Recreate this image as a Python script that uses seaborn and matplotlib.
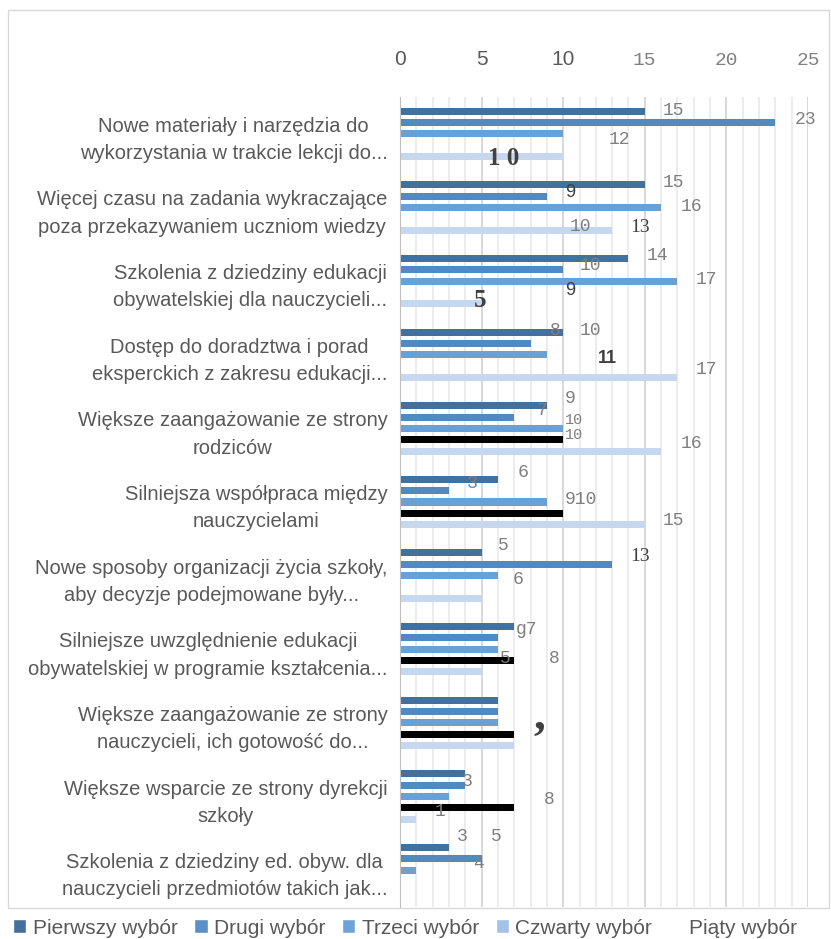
import numpy as np
import pandas as pd
import matplotlib
matplotlib.use("Agg")
import matplotlib.pyplot as plt
from matplotlib.patches import Patch, Rectangle
import seaborn as sns

# categories (top to bottom)
kategorie = [
    "Nowe materiały i narzędzia do\nwykorzystania w trakcie lekcji do...",
    "Więcej czasu na zadania wykraczające\npoza przekazywaniem uczniom wiedzy",
    "Szkolenia z dziedziny edukacji\nobywatelskiej dla nauczycieli...",
    "Dostęp do doradztwa i porad\neksperckich z zakresu edukacji...",
    "Większe zaangażowanie ze strony\nrodziców",
    "Silniejsza współpraca między\nnauczycielami",
    "Nowe sposoby organizacji życia szkoły,\naby decyzje podejmowane były...",
    "Silniejsze uwzględnienie edukacji\nobywatelskiej w programie kształcenia...",
    "Większe zaangażowanie ze strony\nnauczycieli, ich gotowość do...",
    "Większe wsparcie ze strony dyrekcji\nszkoły",
    "Szkolenia z dziedziny ed. obyw. dla\nnauczycieli przedmiotów takich jak...",
]

serie = ["Pierwszy wybór", "Drugi wybór", "Trzeci wybór", "Czwarty wybór", "Piąty wybór"]

# bar lengths as drawn (slot order: 1st, 2nd, 3rd, black, lightest)
pierwszy = [15, 15, 14, 10, 9, 6, 5, 7, 6, 4, 3]
drugi = [23, 9, 10, 8, 7, 3, 13, 6, 6, 4, 5]
trzeci = [10, 16, 17, 9, 10, 9, 6, 6, 6, 3, 1]
piaty = [0, 0, 0, 0, 10, 10, 0, 7, 7, 7, 0]
czwarty = [10, 13, 5, 17, 16, 15, 5, 5, 7, 1, 0]

# data labels as printed: text, category, slot, x, style
etykiety = [
    ("15", 0, -0.1, 16.1, "mono"), ("23", 0, 0.75, 24.2, "mono"),
    ("12", 0, 2.5, 12.8, "mono"), ("1 0", 0, 4.2, 5.4, "serifbig"),
    ("15", 1, -0.2, 16.1, "mono"), ("9", 1, 0.7, 10.1, "sans"),
    ("16", 1, 1.9, 17.2, "mono"), ("10", 1, 3.7, 10.4, "mono"),
    ("13", 1, 3.8, 14.1, "serif"),
    ("14", 2, -0.3, 15.1, "mono"), ("10", 2, 0.6, 11.0, "mono"),
    ("17", 2, 1.9, 18.1, "mono"), ("9", 2, 2.8, 10.1, "sans"),
    ("5", 2, 3.7, 4.5, "serifbig"),
    ("8", 3, -0.1, 9.2, "mono"), ("10", 3, -0.1, 11.0, "mono"),
    ("11", 3, 2.3, 12.1, "sansbold"), ("17", 3, 3.3, 18.1, "mono"),
    ("9", 4, -0.6, 10.1, "mono"), ("7", 4, 0.4, 8.4, "mono"),
    ("10", 4, 1.3, 10.1, "monosmall"), ("10", 4, 2.6, 10.1, "monosmall"),
    ("16", 4, 3.3, 17.2, "mono"),
    ("6", 5, -0.6, 7.2, "mono"), ("3", 5, 0.35, 4.1, "mono"),
    ("910", 5, 1.8, 10.1, "mono"), ("15", 5, 3.6, 16.1, "mono"),
    ("5", 6, -0.7, 6.0, "mono"), ("13", 6, 0.35, 14.1, "serif"),
    ("6", 6, 2.35, 6.9, "mono"),
    ("g7", 7, 0.3, 7.1, "mono"), ("5", 7, 2.8, 6.1, "mono"),
    ("8", 7, 2.8, 9.1, "mono"),
    (",", 8, 1.6, 8.2, "comma"),
    ("3", 9, 0.7, 3.8, "mono"), ("8", 9, 2.3, 8.8, "mono"),
    ("1", 9, 3.3, 2.1, "mono"),
    ("3", 10, -1.0, 3.5, "mono"), ("5", 10, -1.0, 5.6, "mono"),
    ("4", 10, 1.4, 4.5, "mono"),
]

style = {
    "mono": dict(family="Liberation Mono", size=13, color="#7F7F7F"),
    "monosmall": dict(family="Liberation Mono", size=11, color="#7F7F7F"),
    "sans": dict(family="Liberation Sans", size=13, color="#404040"),
    "sansbold": dict(family="Liberation Sans", size=13, color="#404040", weight="bold"),
    "serif": dict(family="Liberation Serif", size=14, color="#404040"),
    "serifbig": dict(family="Liberation Serif", size=18, color="#404040", weight="bold"),
    "comma": dict(family="Liberation Serif", size=34, color="#404040", weight="bold"),
}

sloty = ["Pierwszy wybór", "Drugi wybór", "Trzeci wybór", "Piąty wybór", "Czwarty wybór"]
kolory = {
    "Pierwszy wybór": "#41719C",
    "Drugi wybór": "#5289C1",
    "Trzeci wybór": "#69A1D5",
    "Piąty wybór": "#000000",
    "Czwarty wybór": "#C6D8EF",
}

wartosci = {"Pierwszy wybór": pierwszy, "Drugi wybór": drugi, "Trzeci wybór": trzeci,
            "Piąty wybór": piaty, "Czwarty wybór": czwarty}
rows = []
for s in sloty:
    for k, v in zip(kategorie, wartosci[s]):
        rows.append({"kategoria": k, "seria": s, "liczba": v})
df = pd.DataFrame(rows)

sns.set_style("white")
plt.rcParams["font.family"] = ["Liberation Sans", "DejaVu Sans"]

fig = plt.figure(figsize=(8.31, 9.39), dpi=100)
ax = fig.add_axes([400 / 831, 1 - 907 / 939, 408 / 831, (907 - 97) / 939])

szer = 0.77
sns.barplot(data=df, y="kategoria", x="liczba", hue="seria", hue_order=sloty,
            order=kategorie, palette=kolory, orient="h", width=szer, gap=0.38,
            saturation=1, errorbar=None, linewidth=0, legend=False, ax=ax)

ax.set_xlim(0, 25)
ax.set_ylim(len(kategorie) - 0.5, -0.5)
ax.set_xlabel("")
ax.set_ylabel("")

# x axis on top, mixed fonts as in the source
ax.xaxis.tick_top()
ax.set_xticks(np.arange(0, 26, 5))
ax.set_xticks(np.arange(0, 26, 1), minor=True)
ax.set_xticklabels(["0", "5", "10", "15", "20", "25"])
for i, t in enumerate(ax.get_xticklabels()):
    if i < 3:
        t.set_fontfamily("Liberation Sans")
        t.set_fontsize(15)
        t.set_color("#595959")
    else:
        t.set_fontfamily("Liberation Mono")
        t.set_fontsize(14)
        t.set_color("#808080")
ax.tick_params(axis="x", which="both", length=0, pad=20)
ax.grid(axis="x", which="minor", color="#EBEBEB", lw=1.3)
ax.grid(axis="x", which="major", color="#D6D6D6", lw=1.3)
ax.set_axisbelow(True)

# category labels, centred lines
ax.set_yticks(range(len(kategorie)))
ax.set_yticks(np.arange(-0.5, len(kategorie), 1), minor=True)
ax.tick_params(axis="y", which="major", length=0, pad=9, labelsize=14.5, labelcolor="#595959")
ax.tick_params(axis="y", which="minor", length=8, color="#BFBFBF", width=1)
for t in ax.get_yticklabels():
    t.set_multialignment("center")
    t.set_linespacing(1.55)

for sp in ["top", "right", "bottom"]:
    ax.spines[sp].set_visible(False)
ax.spines["left"].set_color("#BFBFBF")

krok = szer / len(sloty)
for txt, k, slot, x, st in etykiety:
    y = k + (slot - 2) * krok
    ax.text(x, y, txt, ha="left", va="center", clip_on=False, **style[st])

# outer chart frame
fig.add_artist(Rectangle((8 / 831, 1 - 908 / 939), (829 - 8) / 831, (908 - 10) / 939,
                         transform=fig.transFigure, fill=False, edgecolor="#D9D9D9", lw=1))

uchwyty = [Patch(facecolor=c) for c in ["#41719C", "#5B8FC6", "#6DA3D8", "#A3C2E8", "#FFFFFF"]]
fig.legend(uchwyty, serie, loc="center", bbox_to_anchor=(0.487, 11 / 939), ncol=5,
           frameon=False, fontsize=15, labelcolor="#595959", handlelength=0.65,
           handleheight=0.65, handletextpad=0.3, columnspacing=0.8)

fig.savefig("out.png", dpi=100)
